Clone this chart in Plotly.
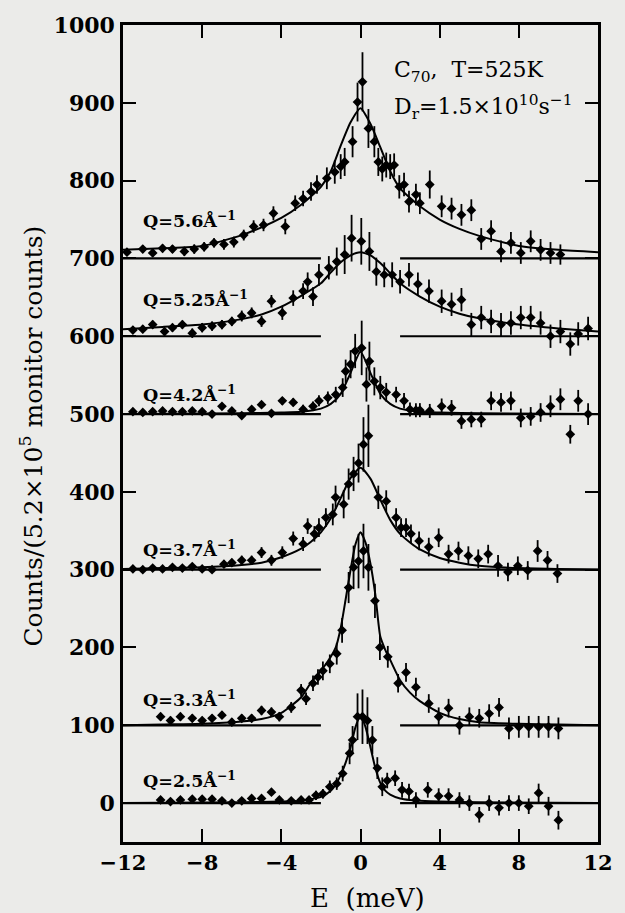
import plotly.graph_objects as go

# ---------------- data ----------------
# Q = 5.6 A^-1 (baseline 700)
E56 = [-11.8,-11.0,-10.5,-10.0,-9.5,-8.9,-8.4,-7.9,-7.4,-6.9,-6.4,-5.9,-5.4,-4.9,-4.4,-3.8,-3.3,-2.9,-2.5,-2.2,
       -1.7,-1.3,-1.0,-0.8,-0.4,-0.15,0.1,0.4,0.7,0.9,1.1,1.3,1.5,1.7,1.96,2.2,2.45,2.8,3.0,3.5,
       4.1,4.6,5.1,5.6,6.1,6.6,7.1,7.6,8.1,8.6,9.1,9.6,10.1]
I56 = [708,712,707,713,712,709,712,715,720,718,721,730,741,743,758,741,771,777,786,795,
       803,811,818,824,850,901,927,867,850,824,815,820,818,820,792,795,773,782,771,795,
       767,764,756,762,725,735,709,720,707,722,711,707,705]
err56 = [5,5,5,5,5,6,6,6,6,7,7,7,8,8,9,10,10,10,12,12,
         14,15,16,18,20,25,38,25,20,18,16,16,16,15,15,15,14,14,14,18,
         14,14,14,14,14,14,14,14,14,14,14,14,13]
CE56 = [-12,-10,-8,-6,-5,-4,-3,-2,-1.5,-1,-0.5,0,0.5,1,1.5,2,3,4,5,6,8,10,12]
C56 = [711,713,716,730,740,752,769,792,812,845,875,893,873,843,812,790,767,750,738,729,716,711,708]

# Q = 5.25 A^-1 (baseline 600)
E525 = [-11.5,-11.0,-10.5,-9.9,-9.5,-9.0,-8.5,-8.0,-7.5,-7.0,-6.5,-6.0,-5.5,-5.0,-4.5,-3.95,-3.4,-2.9,-2.67,-2.4,
        -2.1,-1.6,-1.2,-0.8,-0.45,0.04,0.45,0.8,1.2,1.6,2.0,2.45,2.9,3.46,4.1,4.6,5.1,5.6,6.1,6.6,
        7.1,7.6,8.1,8.6,9.1,9.6,10.1,10.6,11.0,11.5]
I525 = [608,609,615,606,611,615,604,611,613,615,619,626,630,619,645,630,649,658,670,651,
        679,688,696,705,726,722,709,683,679,679,670,679,667,658,645,641,647,615,624,619,
        615,617,624,624,617,600,606,590,603,610]
err525 = [5,5,5,5,5,5,6,6,6,6,6,7,7,7,8,9,10,10,12,12,
          14,15,18,25,30,30,25,18,16,16,15,15,15,15,15,15,15,15,15,15,
          15,15,15,15,15,15,15,15,15,15]
CE525 = [-12,-10,-8,-6,-5,-4,-3,-2,-1.5,-1,-0.5,0,0.5,1,1.5,2,3,4,5,6,8,10,12]
C525 = [609,612,615,622,628,638,652,668,682,695,704,708,704,694,681,668,651,638,629,623,615,610,606]

# Q = 4.2 A^-1 (baseline 500)
E42 = [-11.5,-11.0,-10.5,-10.0,-9.5,-9.0,-8.5,-8.0,-7.5,-7.0,-6.5,-6.0,-5.5,-5.0,-4.5,-3.95,-3.4,-2.9,-2.4,-2.1,
       -1.65,-1.25,-0.9,-0.75,-0.5,-0.27,0.06,0.3,0.45,0.7,1.0,1.3,1.8,2.2,2.5,2.8,3.0,3.5,4.1,4.6,
       5.1,5.6,6.1,6.6,7.1,7.6,8.1,8.6,9.1,9.6,10.1,10.6,11.0,11.5]
I42 = [503,502,503,504,503,503,504,503,500,510,504,498,506,512,501,517,515,506,510,517,
       521,525,534,555,564,581,585,538,568,542,534,528,525,517,506,505,505,504,510,508,
       491,493,493,517,515,517,495,497,502,510,519,474,517,500]
err42 = [4,4,4,4,4,4,4,4,4,4,4,4,4,4,4,5,5,6,6,7,
         8,10,12,15,18,22,35,22,25,18,15,12,10,10,9,9,9,9,10,10,
         10,10,10,12,12,12,12,12,12,14,14,12,14,14]
CE42 = [-12,-6,-4,-3,-2,-1.5,-1,-0.5,0,0.5,1,1.5,2,3,4,6,12]
C42 = [500,501,502,503,507,513,526,553,580,553,526,513,507,503,502,501,500]

# Q = 3.7 A^-1 (baseline 300)
E37 = [-11.5,-11.0,-10.5,-10.0,-9.5,-9.0,-8.5,-8.0,-7.5,-6.9,-6.5,-6.0,-5.5,-5.0,-4.5,-3.95,-3.4,-2.9,-2.67,-2.33,
       -2.1,-1.75,-1.4,-1.26,-0.85,-0.6,-0.35,-0.1,0.15,0.4,0.9,1.3,1.8,2.05,2.3,2.55,2.96,3.45,3.95,4.45,
       4.95,5.45,5.95,6.45,6.95,7.45,7.95,8.45,8.95,9.45,9.95]
I37 = [301,300,302,301,303,302,304,301,300,307,309,312,312,322,312,322,340,333,356,346,
       354,367,371,393,384,410,423,437,461,472,393,388,367,354,354,346,337,329,341,320,
       324,318,314,320,305,297,305,299,324,312,295]
err37 = [3,3,3,3,3,3,3,3,3,5,5,6,6,7,7,8,9,9,10,10,
         12,12,14,15,18,20,22,25,35,40,15,14,12,12,12,12,12,12,12,12,
         12,12,12,12,14,12,12,12,14,12,12]
CE37 = [-12,-10,-8,-6,-5,-4,-3,-2.5,-2,-1.5,-1,-0.5,0,0.5,1,1.5,2,2.5,3,4,5,6,8,10,12]
C37 = [301,302,303,306,309,316,327,336,348,366,392,418,431,417,390,364,346,335,326,315,309,305,302,301,300]

# Q = 3.3 A^-1 (baseline 100)
E33 = [-10.1,-9.6,-9.1,-8.5,-8.0,-7.5,-7.0,-6.5,-6.0,-5.5,-5.0,-4.5,-4.1,-3.5,-3.0,-2.75,-2.4,-2.15,-1.9,-1.55,
       -1.2,-0.93,-0.6,-0.35,-0.1,0.15,0.4,0.73,0.98,1.38,1.9,2.3,2.8,3.45,3.95,4.45,5.0,5.5,6.0,6.5,
       7.0,7.5,8.0,8.5,9.0,9.5,10.0]
I33 = [111,106,111,109,106,109,113,104,109,109,119,117,111,123,145,134,154,162,170,179,
       192,222,277,303,311,324,303,260,200,188,154,168,149,128,111,122,100,111,109,115,
       123,96,98,98,98,98,96]
err33 = [5,5,5,5,5,5,5,5,5,5,6,6,6,7,8,8,10,10,12,12,
         14,16,20,28,35,35,30,22,16,14,12,12,12,12,12,12,12,12,12,12,
         12,14,14,14,14,14,14]
CE33 = [-12,-10,-8,-6,-5,-4,-3,-2.5,-2,-1.5,-1.25,-1,-0.75,-0.5,-0.25,0,0.25,0.5,0.75,1,
        1.25,1.5,2,2.5,3,4,5,6,8,10,12]
C33 = [100,101,102,105,108,116,136,155,170,188,200,225,262,300,333,348,335,308,268,214,
       197,184,158,142,131,116,108,104,102,101,100]

# Q = 2.5 A^-1 (baseline 0)
E25 = [-10.1,-9.6,-9.1,-8.5,-8.0,-7.5,-7.0,-6.5,-6.0,-5.5,-5.0,-4.5,-4.1,-3.5,-3.0,-2.6,-2.25,-1.9,-1.55,-1.2,
       -0.9,-0.55,-0.4,-0.15,0.1,0.35,0.6,0.85,1.1,1.35,1.75,2.1,2.45,2.8,3.4,3.95,4.45,5.0,5.5,6.0,
       6.5,7.0,7.5,8.0,8.5,9.0,9.5,10.0]
I25 = [4,2,4,5,5,5,3,0,3,6,6,14,4,3,4,4,10,12,21,25,
       38,64,81,111,111,106,81,45,21,29,32,17,15,4,17,9,9,4,0,-15,
       0,-6,0,0,-4,13,-4,-22]
err25 = [3,3,3,3,3,3,3,3,3,3,3,3,3,3,3,3,6,6,8,8,
         10,14,18,30,35,30,18,14,12,10,10,10,10,10,10,10,10,10,10,10,
         10,10,10,10,10,12,12,12]
CE25 = [-12,-6,-4,-3,-2.5,-2,-1.5,-1.25,-1,-0.75,-0.5,-0.25,0,0.25,0.5,0.75,1,1.25,1.5,2,2.5,3,4,6,12]
C25 = [0,1,2,3,5,8,16,24,36,52,72,98,113,98,72,45,26,16,11,6,4,3,2,1,0]

baselines = [700, 600, 500, 300, 100, 0]
baseline_E = [-12, -2, None, 2, 12]

q_labels = ["5.6", "5.25", "4.2", "3.7", "3.3", "2.5"]
q_label_y = [750, 648, 527, 327, 134, 30]

x_ticks = [-12, -8, -4, 0, 4, 8, 12]
y_ticks = [0, 100, 200, 300, 400, 500, 600, 700, 800, 900, 1000]

# ---------------- figure ----------------
BG = "#ebebe9"
SERIF = "DejaVu Serif"
fig = go.Figure()

for b in baselines:
    fig.add_trace(go.Scatter(x=baseline_E, y=[b, b, None, b, b], mode="lines",
                             line=dict(color="black", width=2.2), hoverinfo="skip"))

datasets = [(E56, I56, err56, CE56, C56), (E525, I525, err525, CE525, C525),
            (E42, I42, err42, CE42, C42), (E37, I37, err37, CE37, C37),
            (E33, I33, err33, CE33, C33), (E25, I25, err25, CE25, C25)]

for E, I, err, CE, C in datasets:
    fig.add_trace(go.Scatter(x=CE, y=C, mode="lines",
                             line=dict(color="black", width=2, shape="spline", smoothing=0.6)))
    fig.add_trace(go.Scatter(x=E, y=I, mode="markers",
                             marker=dict(symbol="diamond", size=7.5, color="black"),
                             error_y=dict(type="data", array=err, color="black",
                                          thickness=1.8, width=0)))

annotations = []
for q, yv in zip(q_labels, q_label_y):
    annotations.append(dict(x=-11.1, y=yv, xref="x", yref="y", xanchor="left", yanchor="middle",
                            text=f"Q={q}Å<sup>−1</sup>", showarrow=False,
                            font=dict(family=SERIF, size=17.5, color="black", weight="bold")))

annotations.append(dict(x=1.6, y=940, xref="x", yref="y", xanchor="left", yanchor="middle",
                        text="C<sub>70</sub>,  T=525K", showarrow=False,
                        font=dict(family=SERIF, size=22, color="black")))
annotations.append(dict(x=1.6, y=895, xref="x", yref="y", xanchor="left", yanchor="middle",
                        text="D<sub>r</sub>=1.5×10<sup>10</sup>s<sup>−1</sup>", showarrow=False,
                        font=dict(family=SERIF, size=22, color="black")))
annotations.append(dict(x=0.515, y=-0.068, xref="paper", yref="paper", xanchor="center",
                        yanchor="middle", text="E  (meV)", showarrow=False,
                        font=dict(family=SERIF, size=26, color="black")))
annotations.append(dict(x=-0.193, y=(842 - 648) / 820, xref="paper", yref="paper", xanchor="center",
                        yanchor="bottom", textangle=-90,
                        text="Counts/(5.2×10<sup>5</sup> monitor counts)", showarrow=False,
                        font=dict(family=SERIF, size=25, color="black")))

fig.update_layout(
    width=625, height=913,
    margin=dict(l=123, r=17, t=22, b=71),
    paper_bgcolor=BG, plot_bgcolor=BG,
    showlegend=False,
    annotations=annotations,
    xaxis=dict(range=[-12, 12], tickvals=x_ticks, ticktext=[("−" + str(-v)) if v < 0 else str(v) for v in x_ticks],
               ticks="inside", ticklen=13, tickwidth=2, tickcolor="black",
               showline=True, linewidth=2.5, linecolor="black", mirror="ticks",
               showgrid=False, zeroline=False,
               tickfont=dict(family=SERIF, size=21, color="black", weight="bold")),
    yaxis=dict(range=[-50, 1000], tickvals=y_ticks,
               ticks="inside", ticklen=13, tickwidth=2, tickcolor="black",
               showline=True, linewidth=2.5, linecolor="black", mirror="ticks",
               showgrid=False, zeroline=False, ticklabelstandoff=1,
               tickfont=dict(family=SERIF, size=22, color="black", weight="bold")),
)

fig.write_html("out.html")
